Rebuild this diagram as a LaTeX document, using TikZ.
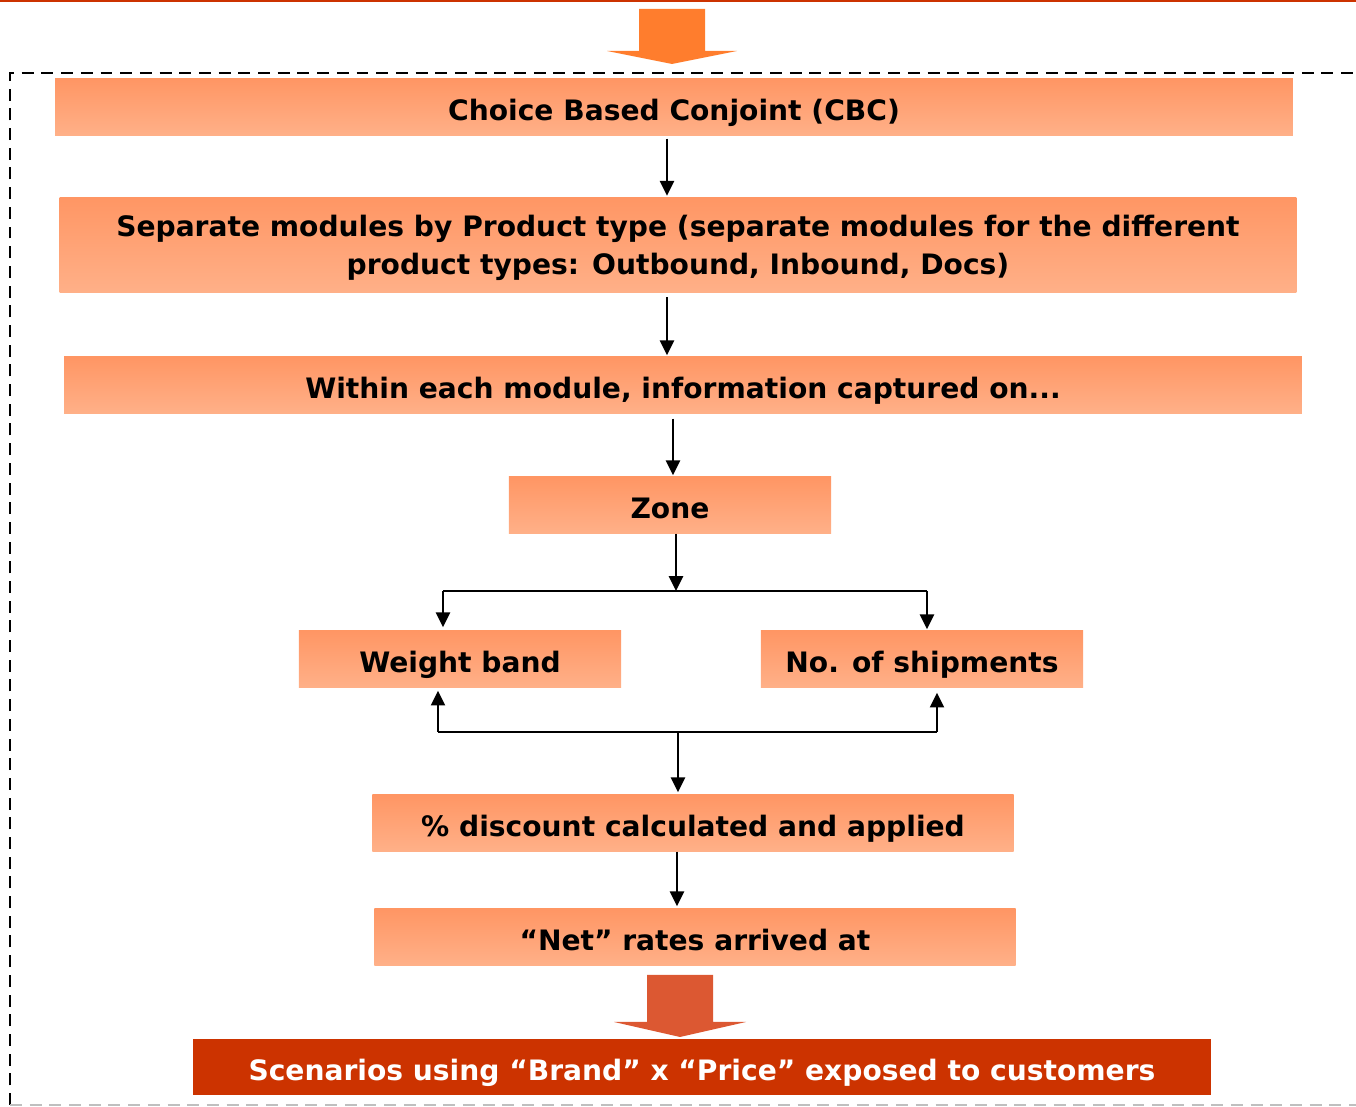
\documentclass[tikz,border=0pt]{standalone}
\usepackage{fontspec}
\setmainfont{DejaVu Sans}
\usepackage{tikz}
\usetikzlibrary{positioning,arrows.meta,calc}
\definecolor{boxtop}{RGB}{255,150,100}
\definecolor{boxbot}{RGB}{255,176,136}
\definecolor{deepred}{RGB}{204,51,0}
\definecolor{arrowor}{RGB}{255,125,45}
\definecolor{arrowrd}{RGB}{220,88,50}

\tikzset{
  stagebox/.style={rectangle,top color=boxtop,bottom color=boxbot,draw=none,
    minimum height=0.56cm,inner sep=0pt,align=center,text height=1.45ex,text depth=0.05ex,
    font=\bfseries\fontsize{8.0}{10.8}\selectfont},
  outbox/.style={rectangle,fill=deepred,draw=none,text=white,
    minimum height=0.56cm,inner sep=0pt,align=center,text height=1.45ex,text depth=0.05ex,
    font=\bfseries\fontsize{8.0}{10.8}\selectfont},
  flow/.style={-{Triangle[length=4.2pt,width=4pt]},line width=0.55pt},
  link/.style={line width=0.55pt},
  frameline/.style={line width=0.75pt,dash pattern=on 3.4pt off 2.2pt}
}

\begin{document}
\begin{tikzpicture}[x=0.01cm,y=-0.01cm]
\useasboundingbox (0,0) rectangle (1356,1107);
% frame
\fill[deepred] (0,0) rectangle (1356,2);
\draw[frameline] (10,1105) -- (10,73) -- (1370,73);
\draw[frameline,gray!50] (10,1105) -- (1356,1105);

% block arrows
\fill[arrowor] (639,9) -- (705,9) -- (705,51) -- (737,51) -- (672,64) -- (607,51) -- (639,51) -- cycle;
\fill[arrowrd] (647,975) -- (713,975) -- (713,1022) -- (746,1022) -- (680,1037) -- (614,1022) -- (647,1022) -- cycle;

% stages
\node[stagebox,minimum width=12.37cm] (cbc) at (674,107) {Choice Based Conjoint (CBC)};
\node[stagebox,minimum width=12.36cm,minimum height=0.95cm,text height=17.2pt,text depth=0.2pt] (modules) at (678,245)
  {Separate modules by Product type (separate modules for the different\\product types: Outbound, Inbound, Docs)};
\node[stagebox,minimum width=12.37cm] (within) at (683,385) {Within each module, information captured on...};
\node[stagebox,minimum width=3.22cm] (zone) at (670,505) {Zone};
\node[stagebox,minimum width=3.22cm] (weight) at (460,659) {Weight band};
\node[stagebox,minimum width=3.22cm] (shipments) at (922,659) {No. of shipments};
\node[stagebox,minimum width=6.41cm] (discount) at (693,823) {\% discount calculated and applied};
\node[stagebox,minimum width=6.41cm] (net) at (695,937) {“Net” rates arrived at};
\node[outbox,minimum width=10.17cm] (scen) at (702,1067) {Scenarios using “Brand” x “Price” exposed to customers};

% connectors
\coordinate (split) at (676,591);
\coordinate (join) at (678,732);
\draw[flow] ($(cbc.south)+(-7,3)$) -- ($(modules.north)+(-11,-1)$);
\draw[flow] ($(modules.south)+(-11,4)$) -- ($(within.north)+(-16,-1)$);
\draw[flow] ($(within.south)+(-10,5)$) -- ($(zone.north)+(3,-1)$);
\draw[flow] ($(zone.south)+(6,0)$) -- (split);
\draw[link] (443,591) -- (927,591);
\draw[flow] (443,591) -- ($(weight.north)+(-17,-3)$);
\draw[flow] (927,591) -- ($(shipments.north)+(5,-1)$);
\draw[link] (438,732) -- (937,732);
\draw[flow] (438,732) -- ($(weight.south)+(-22,3)$);
\draw[flow] (937,732) -- ($(shipments.south)+(15,5)$);
\draw[flow] (join) -- ($(discount.north)+(-15,-2)$);
\draw[flow] ($(discount.south)+(-16,0)$) -- ($(net.north)+(-18,-2)$);
\end{tikzpicture}
\end{document}
